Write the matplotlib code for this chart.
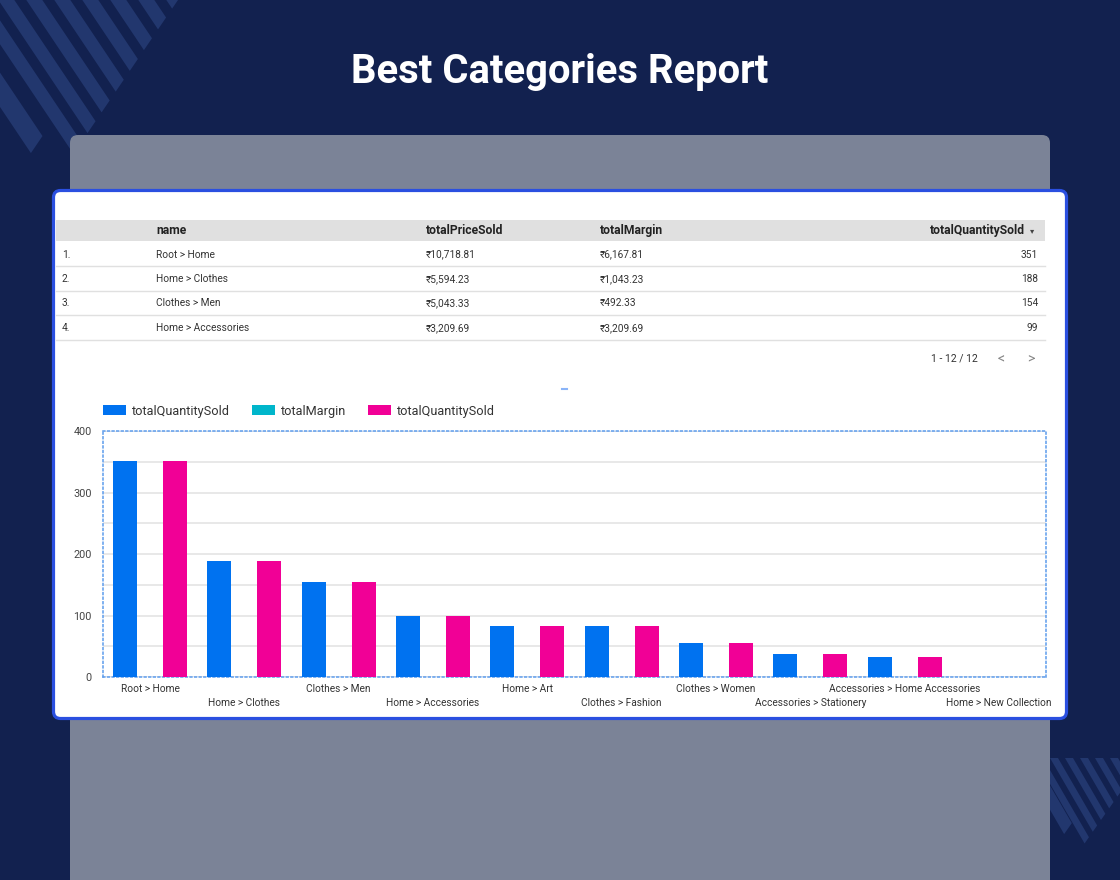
import numpy as np
import matplotlib.pyplot as plt
from matplotlib.patches import FancyBboxPatch, Polygon, Patch, Rectangle

plt.rcParams['font.family'] = ['Roboto', 'DejaVu Sans']

# table rows shown on the page
table_names = ["Root > Home", "Home > Clothes", "Clothes > Men", "Home > Accessories"]
table_price = [10718.81, 5594.23, 5043.33, 3209.69]
table_margin = [6167.81, 1043.23, 492.33, 3209.69]
table_qty = [351, 188, 154, 99]
table_cols = ["name", "totalPriceSold", "totalMargin", "totalQuantitySold"]

# bar chart data
categories = ["Root > Home", "Home > Clothes", "Clothes > Men", "Home > Accessories",
              "Home > Art", "Clothes > Fashion", "Clothes > Women",
              "Accessories > Stationery", "Accessories > Home Accessories",
              "Home > New Collection"]
qty_sold = [351, 188, 154, 99, 83, 83, 55, 37, 33, 0]
series_names = ["totalQuantitySold", "totalMargin", "totalQuantitySold"]

BLUE = '#0072f0'
TEAL = '#00b6cb'
PINK = '#f10096'
NAVY = '#12214f'
STRIPE = '#22376e'

fig = plt.figure(figsize=(11.2, 8.8), dpi=100)
fig.patch.set_facecolor(NAVY)

# full-page layer in pixel coordinates
bg = fig.add_axes([0, 0, 1, 1])
bg.set_xlim(0, 1120)
bg.set_ylim(880, 0)
bg.axis('off')


def stripe(xl, w, ytop, k, m, c):
    # parallelogram running down-right, cut by the line x + m*y = c
    yr = (c - xl - w + k * ytop) / (k + m)
    yl = (c - xl + k * ytop) / (k + m)
    pts = [(xl, ytop), (xl + w, ytop),
           (xl + w + k * (yr - ytop), yr), (xl + k * (yl - ytop), yl)]
    return Polygon(pts, closed=True, fc=STRIPE, ec='none')


# decorative stripes, top left
for n in range(8):
    bg.add_patch(stripe(165 - 28 * n, 16, -2, 0.67, 0.68, 178))
bg.add_patch(stripe(-73, 23, -2, 0.67, 0.68, 135))

# decorative stripes, bottom right
for n in range(6):
    bg.add_patch(stripe(1035 + 15 * n, 8, 758, 0.58, 0.7, 1675))
bg.add_patch(stripe(1020, 14, 758, 0.58, 0.7, 1648))

# title
bg.text(560, 72, "Best Categories Report", color='white', fontsize=28.8,
        fontweight='bold', ha='center', va='center')

# grey panel and white card
bg.add_patch(FancyBboxPatch((70, 135), 980, 780,
                            boxstyle='round,pad=0,rounding_size=8',
                            fc='#7b8397', ec='none'))
bg.add_patch(FancyBboxPatch((53.5, 190.5), 1013, 528,
                            boxstyle='round,pad=0,rounding_size=7',
                            fc='white', ec='#2a4fe0', lw=2.3))

# table
bg.add_patch(Rectangle((56, 220), 989, 21, fc='#e0e0e0', ec='none'))
hdr_x = [156, 426, 600]
for x, col in zip(hdr_x, table_cols[:3]):
    bg.text(x, 230.5, col, fontsize=8.7, fontweight='bold', color='#222',
            ha='left', va='center')
bg.text(1025, 230.5, table_cols[3], fontsize=8.7, fontweight='bold',
        color='#222', ha='right', va='center')
bg.text(1032, 231, "▾", fontsize=6, color='#444', ha='center', va='center',
        family=['DejaVu Sans'])

row_y = [254.5, 279, 303.5, 328]
for i, y in enumerate(row_y):
    bg.text(62, y, f"{i + 1}.", fontsize=7.3, color='#333', va='center')
    bg.text(156, y, table_names[i], fontsize=7.3, color='#333', va='center')
    bg.text(426, y, f"₹{table_price[i]:,.2f}", fontsize=7.3, color='#333',
            va='center')
    bg.text(600, y, f"₹{table_margin[i]:,.2f}", fontsize=7.3, color='#333',
            va='center')
    bg.text(1038, y, str(table_qty[i]), fontsize=7.3, color='#333',
            ha='right', va='center')
    bg.plot([56, 1045], [y + 12, y + 12], color='#e0e0e0', lw=1)

bg.text(978, 359, "1 - 12 / 12", fontsize=7.5, color='#333', ha='right',
        va='center')
bg.text(1001, 359, "<", fontsize=10, color='#888', ha='center', va='center')
bg.text(1031, 359, ">", fontsize=10, color='#888', ha='center', va='center')
bg.plot([562, 567], [389, 389], color='#8ab4f8', lw=1.5)

# bar chart
ax = fig.add_axes([103 / 1120, 1 - 677 / 880, 943 / 1120, 246 / 880])
x = np.arange(len(categories))
w = 0.255
ax.bar(x - 0.265, qty_sold, w, color=BLUE, zorder=3)
ax.bar(x + 0.265, qty_sold, w, color=PINK, zorder=3)

ax.set_xlim(-0.5, len(categories) - 0.5)
ax.set_ylim(0, 400)
ax.set_yticks([0, 100, 200, 300, 400])
ax.set_yticks([50, 150, 250, 350], minor=True)
ax.grid(axis='y', which='both', color='#e6e6e6', lw=1.3, zorder=0)
ax.set_axisbelow(True)
for s in ax.spines.values():
    s.set_linestyle((0, (1.2, 1.8)))
    s.set_color('#5d9cec')
    s.set_linewidth(1.1)

# category labels staggered on two rows
ax.set_xticks(x[::2])
ax.set_xticklabels(categories[::2], fontsize=7.3, color='#333')
ax.set_xticks(x[1::2], minor=True)
ax.set_xticklabels(categories[1::2], minor=True, fontsize=7.3, color='#333')
ax.tick_params(axis='x', which='major', length=0, pad=5)
ax.tick_params(axis='x', which='minor', length=0, pad=15)
ax.tick_params(axis='y', which='both', length=0, pad=8, labelsize=7.8,
               labelcolor='#444')

handles = [Patch(fc=BLUE), Patch(fc=TEAL), Patch(fc=PINK)]
leg = ax.legend(handles, series_names, loc='center left',
                bbox_to_anchor=(0, 1 + 20 / 246), ncol=3, frameon=False,
                fontsize=9.2, handlelength=1.8, handleheight=0.9,
                handletextpad=0.45, columnspacing=1.75, borderpad=0,
                borderaxespad=0)
for t in leg.get_texts():
    t.set_color('#333')

fig.savefig('out.png', dpi=100, facecolor=NAVY)
